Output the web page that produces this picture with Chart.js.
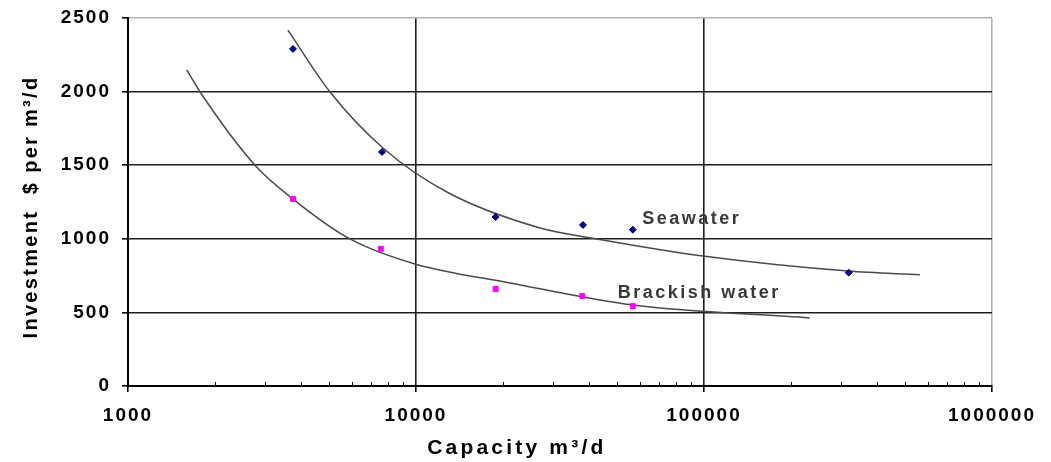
<!DOCTYPE html>
<html>
<head>
<meta charset="utf-8">
<script src="https://cdn.jsdelivr.net/npm/chart.js@4/dist/chart.umd.min.js"></script>
<style>
  html, body { margin: 0; padding: 0; background: #fff; }
  #wrap { width: 1051px; height: 462px; }
</style>
</head>
<body>
<div id="wrap"><canvas id="capChart" width="1051" height="462"></canvas></div>
<script>
// valores (capacidade m3/d x investimento $ por m3/d)
const seaCapacity = [3740, 7620, 18900, 38000, 56600, 318000];
const seaInvest = [2290, 1590, 1148, 1094, 1062, 770];
const brackCapacity = [3740, 7550, 18900, 37800, 56600];
const brackInvest = [1270, 932, 659, 611, 543];

// pontos lidos ao longo das linhas de tendência
const seaTrendX = [3590, 5030, 7680, 12800, 27000, 42500, 99200, 316000, 562000];
const seaTrendY = [2418, 1997, 1617, 1318, 1073, 999, 883, 781, 756];
const brackTrendX = [1600, 1780, 2760, 3740, 5900, 9920, 21200, 56700, 233000];
const brackTrendY = [2147, 1997, 1500, 1270, 999, 829, 700, 550, 462];

const xTickValues = [1000, 10000, 100000, 1000000];
const yTickValues = [0, 500, 1000, 1500, 2000, 2500];

const xTitle = 'Capacity m³/d';
const yTitle = 'Investment  $ per m³/d';
const labels = [
    { text: 'Seawater', x: 61000, y: 1134 },
    { text: 'Brackish water', x: 50200, y: 632 }
];

const fontFamily = '"Liberation Sans", Arial, sans-serif';

function toPoints(xs, ys) {
    return xs.map((x, i) => ({ x: x, y: ys[i] }));
}

// espaçamento entre letras para imitar o texto largo do original
const spacingPlugin = {
    id: 'spacing',
    beforeUpdate(chart) { chart.ctx.letterSpacing = '2px'; },
    beforeLayout(chart) { chart.ctx.letterSpacing = '2px'; },
    beforeDraw(chart) { chart.ctx.letterSpacing = '2px'; }
};

// títulos dos eixos, rótulos das curvas e pequenos ticks do eixo x
const extrasPlugin = {
    id: 'extras',
    afterDraw(chart) {
        const ctx = chart.ctx;
        const area = chart.chartArea;
        const xs = chart.scales.x;
        const ys = chart.scales.y;

        ctx.save();
        ctx.strokeStyle = '#000';
        ctx.lineWidth = 1;
        for (let i = 0; i < xTickValues.length - 1; i++) {
            for (let k = 2; k < 10; k++) {
                const px = Math.round(xs.getPixelForValue(xTickValues[i] * k)) + 0.5;
                ctx.beginPath();
                ctx.moveTo(px, area.bottom);
                ctx.lineTo(px, area.bottom - 4);
                ctx.stroke();
            }
        }

        ctx.fillStyle = '#383838';
        ctx.font = 'bold 18px ' + fontFamily;
        ctx.letterSpacing = '2.5px';
        ctx.textAlign = 'left';
        ctx.textBaseline = 'middle';
        labels.forEach(l => {
            ctx.fillText(l.text, xs.getPixelForValue(l.x), ys.getPixelForValue(l.y));
        });

        ctx.fillStyle = '#000';
        ctx.font = 'bold 21px ' + fontFamily;
        ctx.letterSpacing = '3.2px';
        ctx.textAlign = 'center';
        ctx.fillText(xTitle, area.left + (area.right - area.left) * 0.45, 448);

        ctx.translate(31, (area.top + area.bottom) / 2 + 5);
        ctx.rotate(-Math.PI / 2);
        ctx.font = 'bold 20px ' + fontFamily;
        ctx.letterSpacing = '2.3px';
        ctx.fillText(yTitle, 0, 0);
        ctx.restore();
    }
};

const ctx = document.getElementById('capChart').getContext('2d');
const chart = new Chart(ctx, {
    type: 'scatter',
    data: {
        datasets: [
            {
                label: 'Seawater',
                data: toPoints(seaCapacity, seaInvest),
                backgroundColor: '#000080',
                borderColor: '#000080',
                pointStyle: 'rectRot',
                pointRadius: 3.5,
                order: 1
            },
            {
                label: 'Brackish water',
                data: toPoints(brackCapacity, brackInvest),
                backgroundColor: '#ff00ff',
                borderColor: '#ff00ff',
                pointStyle: 'rect',
                pointRadius: 3.5,
                order: 1
            },
            {
                label: 'Seawater trend',
                data: toPoints(seaTrendX, seaTrendY),
                showLine: true,
                borderColor: '#4a4a4a',
                borderWidth: 1.5,
                pointRadius: 0,
                cubicInterpolationMode: 'monotone',
                order: 2
            },
            {
                label: 'Brackish trend',
                data: toPoints(brackTrendX, brackTrendY),
                showLine: true,
                borderColor: '#4a4a4a',
                borderWidth: 1.5,
                pointRadius: 0,
                cubicInterpolationMode: 'monotone',
                order: 2
            }
        ]
    },
    options: {
        responsive: false,
        devicePixelRatio: 1,
        animation: false,
        layout: { padding: { left: 0, right: 59, top: 18, bottom: 0 } },
        plugins: {
            legend: { display: false },
            tooltip: { enabled: false }
        },
        scales: {
            x: {
                type: 'logarithmic',
                min: 1000,
                max: 1000000,
                afterBuildTicks(scale) {
                    scale.ticks = xTickValues.map(v => ({ value: v }));
                },
                afterFit(scale) { scale.height = 76; },
                ticks: {
                    autoSkip: false,
                    maxRotation: 0,
                    padding: 12,
                    color: '#000',
                    font: { family: fontFamily, size: 19, weight: 'bold' },
                    callback: v => String(v)
                },
                grid: {
                    color: c => (c.tick && c.tick.value === 1000000) ? '#b3b3b3' : '#1e1e1e',
                    lineWidth: 1.6,
                    tickColor: '#000',
                    tickLength: 6
                },
                border: { color: '#000', width: 2 }
            },
            y: {
                min: 0,
                max: 2500,
                afterBuildTicks(scale) {
                    scale.ticks = yTickValues.map(v => ({ value: v }));
                },
                afterFit(scale) {
                    scale.width = 128;
                    scale.paddingTop = 0;
                    scale.paddingBottom = 0;
                },
                ticks: {
                    padding: 11,
                    color: '#000',
                    font: { family: fontFamily, size: 19, weight: 'bold' },
                    callback: v => String(v)
                },
                grid: {
                    color: c => (c.tick && c.tick.value === 2500) ? '#b3b3b3' : '#1e1e1e',
                    lineWidth: 1.6,
                    tickColor: '#000',
                    tickLength: 6
                },
                border: { color: '#000', width: 2 }
            }
        }
    },
    plugins: [spacingPlugin, extrasPlugin]
});
</script>
</body>
</html>
